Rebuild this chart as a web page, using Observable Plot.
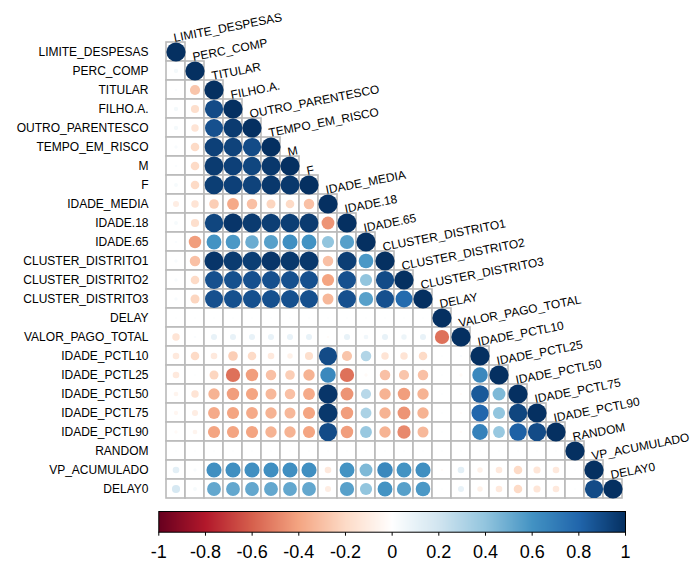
<!DOCTYPE html>
<html><head><meta charset="utf-8">
<script src="https://cdn.jsdelivr.net/npm/d3@7"></script>
<script src="https://cdn.jsdelivr.net/npm/@observablehq/plot@0.6"></script>
<style>
body{margin:0;background:#fff;}
#chart{width:691px;height:565px;position:relative;background:#fff;}
#chart svg{display:block;}
</style>
</head><body><div id="chart"></div>
<script>
const variables = ["LIMITE_DESPESAS","PERC_COMP","TITULAR","FILHO.A.","OUTRO_PARENTESCO","TEMPO_EM_RISCO","M","F","IDADE_MEDIA","IDADE.18","IDADE.65","CLUSTER_DISTRITO1","CLUSTER_DISTRITO2","CLUSTER_DISTRITO3","DELAY","VALOR_PAGO_TOTAL","IDADE_PCTL10","IDADE_PCTL25","IDADE_PCTL50","IDADE_PCTL75","IDADE_PCTL90","RANDOM","VP_ACUMULADO","DELAY0"];

// lower-triangle correlations, row i has i+1 values (columns 0..i)
const corrRows = [
  [1],
  [0.05, 1],
  [0.02, -0.28, 1],
  [0.05, -0.18, 0.9, 1],
  [0.05, -0.15, 0.88, 0.96, 1],
  [0.03, -0.2, 0.94, 0.93, 0.9, 1],
  [0.02, -0.2, 0.96, 0.94, 0.92, 0.97, 1],
  [0.04, -0.2, 0.95, 0.94, 0.93, 0.97, 0.97, 1],
  [-0.1, -0.15, -0.25, -0.38, -0.3, -0.22, -0.2, -0.3, 1],
  [0.04, -0.18, 0.92, 0.98, 0.96, 0.95, 0.95, 0.96, -0.45, 1],
  [0.02, -0.42, 0.6, 0.58, 0.5, 0.55, 0.62, 0.6, 0.4, 0.55, 1],
  [0.03, -0.3, 0.98, 0.96, 0.95, 0.98, 0.97, 0.97, -0.3, 0.95, 0.58, 1],
  [0.03, -0.2, 0.88, 0.88, 0.88, 0.88, 0.88, 0.88, -0.4, 0.88, 0.4, 0.9, 1],
  [0.03, -0.22, 0.88, 0.88, 0.88, 0.88, 0.88, 0.88, -0.33, 0.88, 0.55, 0.88, 0.78, 1],
  [0.01, 0.01, 0.01, 0.01, 0.01, 0.01, 0.01, 0.01, 0.01, 0.01, 0.01, 0.01, 0.01, 0.01, 1],
  [-0.15, 0.02, 0.1, 0.1, 0.1, 0.1, 0.1, 0.1, -0.02, 0.1, 0.06, 0.1, 0.08, 0.1, -0.55, 1],
  [-0.12, -0.2, -0.12, -0.25, -0.2, -0.12, -0.08, -0.18, 0.9, -0.28, 0.3, -0.15, -0.15, -0.2, 0.01, 0.02, 1],
  [-0.12, 0.01, -0.22, -0.55, -0.42, -0.3, -0.25, -0.35, 0.65, -0.55, -0.03, -0.3, -0.28, -0.3, 0.01, -0.03, 0.65, 1],
  [-0.06, -0.15, -0.35, -0.42, -0.4, -0.33, -0.3, -0.38, 0.98, -0.45, 0.28, -0.35, -0.42, -0.35, 0.01, -0.02, 0.85, 0.45, 1],
  [-0.05, -0.1, -0.38, -0.4, -0.38, -0.35, -0.33, -0.4, 0.97, -0.42, 0.32, -0.35, -0.45, -0.35, 0.01, -0.02, 0.8, 0.4, 0.92, 1],
  [-0.03, -0.06, -0.4, -0.4, -0.4, -0.35, -0.35, -0.4, 0.9, -0.42, 0.38, -0.35, -0.48, -0.33, 0.01, -0.02, 0.68, 0.38, 0.82, 0.9, 1],
  [0.01, 0.01, 0.01, 0.01, 0.01, 0.01, 0.01, 0.01, 0.01, 0.01, 0.01, 0.01, 0.01, 0.01, 0.01, 0.01, 0.01, 0.01, 0.01, 0.01, 0.01, 1],
  [0.12, 0.03, 0.62, 0.62, 0.62, 0.62, 0.62, 0.62, -0.12, 0.6, 0.45, 0.65, 0.6, 0.62, -0.02, 0.12, -0.08, -0.12, -0.2, -0.14, -0.12, 0.01, 1],
  [0.18, 0.04, 0.52, 0.52, 0.52, 0.52, 0.52, 0.52, -0.1, 0.55, 0.4, 0.6, 0.55, 0.58, 0.01, 0.1, -0.08, -0.12, -0.2, -0.14, -0.12, 0.01, 0.9, 1]
];

const colorStops = [-1, -0.8, -0.6, -0.4, -0.2, 0, 0.2, 0.4, 0.6, 0.8, 1];
const colorPalette = ["#67001F","#B2182B","#D6604D","#F4A582","#FDDBC7","#FFFFFF","#D1E5F0","#92C5DE","#4393C3","#2166AC","#053061"];
const colorbarTicks = [-1, -0.8, -0.6, -0.4, -0.2, 0, 0.2, 0.4, 0.6, 0.8, 1];

const cells = [];
corrRows.forEach((row, i) => row.forEach((v, j) => cells.push({row: variables[i], col: variables[j], value: v})));
const diagLabels = variables.map(v => ({name: v}));

const font = "'Liberation Sans', Arial, Helvetica, sans-serif";
const colorScale = {type: "linear", domain: colorStops, range: colorPalette, interpolate: "rgb"};
const W = 691;

const main = Plot.plot({
  width: W, height: 505,
  marginLeft: 160.5, marginRight: 63.7, marginTop: 37.5, marginBottom: 3.1,
  style: {fontFamily: font, fontSize: "12px", color: "#000", background: "#fff", overflow: "visible"},
  x: {domain: variables, padding: 0, axis: null},
  y: {domain: variables, padding: 0, tickSize: 0, tickPadding: 12.5, label: null},
  color: colorScale,
  r: {type: "sqrt", domain: [0, 1], range: [0, 9.6]},
  marks: [
    Plot.cell(cells, {x: "col", y: "row", fill: "white", stroke: "#bababa", strokeWidth: 1.6}),
    Plot.dot(cells, {x: "col", y: "row", r: d => Math.abs(d.value), fill: "value"}),
    Plot.text(diagLabels, {x: "name", y: "name", text: "name", textAnchor: "start", lineAnchor: "bottom", rotate: -11, dx: -1.5, dy: -10, fill: "#000", fontSize: 12})
  ]
});

const bar = Plot.plot({
  width: W, height: 60,
  marginLeft: 158.3, marginRight: 66, marginTop: 6, marginBottom: 33.3,
  style: {fontFamily: font, fontSize: "18px", color: "#000", background: "#fff"},
  x: {domain: [-1, 1], ticks: colorbarTicks, tickSize: 4, tickPadding: 9, tickFormat: d => String(d), label: null},
  y: {domain: [0, 1], axis: null},
  color: colorScale,
  marks: [
    Plot.raster({x1: -1, x2: 1, y1: 0, y2: 1, fill: (x, y) => x, pixelSize: 1}),
    Plot.frame({stroke: "#000", strokeWidth: 1})
  ]
});

const chart = document.getElementById("chart");
chart.appendChild(main);
chart.appendChild(bar);
</script>
</body></html>
